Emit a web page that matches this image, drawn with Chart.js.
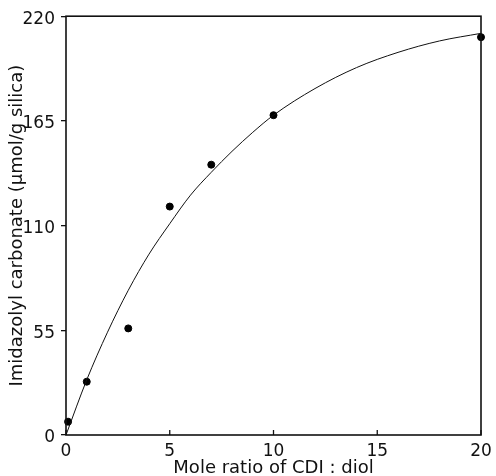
<!DOCTYPE html>
<html>
<head>
  <meta charset="UTF-8">
  <title>Imidazolyl carbonate vs CDI:diol</title>
  <script src="https://cdn.jsdelivr.net/npm/chart.js"></script>
  <style>
    body {
      margin: 0;
      background: #fff;
    }
    #wrap {
      width: 496px;
      height: 476px;
    }
  </style>
</head>
<body>
  <div id="wrap"><canvas id="chart" width="496" height="476"></canvas></div>

  <script>
    // measured points
    const ratio = [0.1, 1, 3, 5, 7, 10, 20];
    const measured = [7, 28, 56, 120, 142, 168, 209];

    // fitted curve
    const curveX = [0, 1, 2, 3, 4, 5, 6, 7, 8, 9, 10, 12, 14, 16, 18, 20];
    const curveY = [0, 29, 54, 76, 95, 111, 126, 138, 149, 159, 168, 182, 193, 201, 207, 211];

    const xTicks = [0, 5, 10, 15, 20];
    const yTicks = [0, 55, 110, 165, 220];

    const tickFont = { family: 'DejaVu Sans', size: 17 };
    const titleFont = { family: 'DejaVu Sans', size: 18, lineHeight: 1 };

    // frame + inward x ticks
    const frame = {
      id: 'frame',
      afterDraw(chart) {
        const { ctx, chartArea: a } = chart;
        const xs = chart.scales.x;
        ctx.save();
        ctx.strokeStyle = '#111';
        ctx.lineWidth = 1.6;
        ctx.strokeRect(a.left, a.top, a.right - a.left, a.bottom - a.top);
        ctx.lineWidth = 1.3;
        xTicks.forEach(v => {
          const px = xs.getPixelForValue(v);
          ctx.beginPath();
          ctx.moveTo(px, a.bottom);
          ctx.lineTo(px, a.bottom - 5);
          ctx.stroke();
        });
        ctx.restore();
      }
    };

    new Chart(document.getElementById('chart'), {
      type: 'scatter',
      data: {
        datasets: [{
          label: 'curve',
          data: curveX.map((x, i) => ({ x: x, y: curveY[i] })),
          showLine: true,
          borderColor: '#111',
          borderWidth: 1,
          pointRadius: 0,
          cubicInterpolationMode: 'monotone',
          clip: false
        }, {
          label: 'measured',
          data: ratio.map((x, i) => ({ x: x, y: measured[i] })),
          showLine: false,
          backgroundColor: '#000',
          borderColor: '#000',
          pointRadius: 3.5,
          clip: false
        }]
      },
      options: {
        responsive: false,
        animation: false,
        layout: { padding: { top: 16, right: 15, left: 0, bottom: 0 } },
        plugins: {
          legend: { display: false },
          tooltip: { enabled: false }
        },
        scales: {
          x: {
            type: 'linear',
            min: 0,
            max: 20,
            afterFit(scale) {
              scale.height = 41;
              scale.paddingLeft = 0;
              scale.paddingRight = 0;
            },
            afterBuildTicks(scale) { scale.ticks = xTicks.map(v => ({ value: v })); },
            grid: { display: false, drawTicks: false },
            border: { display: false },
            ticks: { font: tickFont, color: '#111', padding: 6, maxRotation: 0 },
            title: {
              display: true,
              text: 'Mole ratio of CDI : diol',
              font: titleFont,
              color: '#111',
              padding: { top: 0, bottom: -1 }
            }
          },
          y: {
            type: 'linear',
            min: 0,
            max: 220,
            afterFit(scale) { scale.width = 66; },
            afterBuildTicks(scale) { scale.ticks = yTicks.map(v => ({ value: v })); },
            grid: { drawOnChartArea: false, drawTicks: true, tickLength: 5, color: '#111', lineWidth: 1.3 },
            border: { display: false },
            ticks: { font: tickFont, color: '#111', padding: 6, labelOffset: 3 },
            title: {
              display: true,
              text: 'Imidazolyl carbonate (μmol/g silica)',
              font: titleFont,
              color: '#111',
              padding: { top: 8, bottom: 0 }
            }
          }
        }
      },
      plugins: [frame]
    });
  </script>
</body>
</html>
